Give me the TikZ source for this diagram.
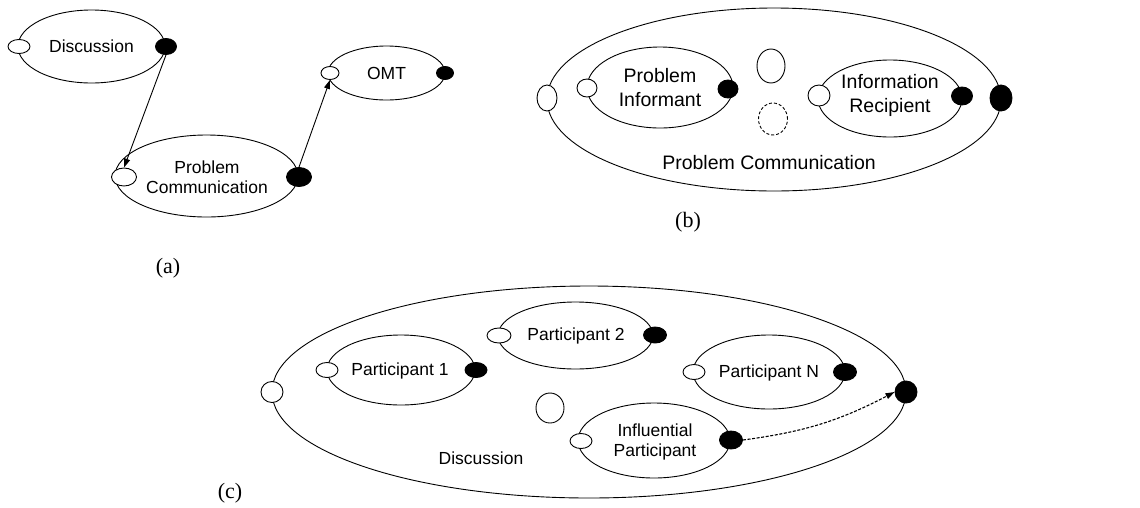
\documentclass[tikz,border=0pt]{standalone}
\usepackage{fontspec}
\setmainfont{Liberation Serif}
\newfontfamily\arialface{Liberation Sans}
\usetikzlibrary{shapes.geometric,arrows.meta}

\tikzset{
  shell/.style={draw, ellipse, line width=0.9pt, inner sep=0pt},
  inport/.style={draw, ellipse, fill=white, line width=0.9pt, inner sep=0pt},
  outport/.style={draw, ellipse, fill=black, line width=0.9pt, inner sep=0pt},
  lbl/.style={font=\arialface\fontsize{17.5}{20.5}\selectfont, align=center, inner sep=0pt},
  lblb/.style={font=\arialface\fontsize{19.5}{24}\selectfont, align=center, inner sep=0pt},
  caption/.style={font=\fontsize{22}{26}\selectfont, inner sep=0pt},
  flow/.style={line width=0.9pt, -{Triangle[length=9pt,width=6pt]}},
  dflow/.style={line width=1.1pt, dash pattern=on 3pt off 1.6pt, -{Triangle[length=9pt,width=6pt]}},
}

\begin{document}
\begin{tikzpicture}[x=1pt, y=-1pt]
\useasboundingbox (0,0) rectangle (1140,507);

% ---------- (a) ----------
\node[shell, minimum width=147, minimum height=73] (disc) at (91.5,46.5) {};
\node[lbl] (disctxt) at (disc.center) {Discussion};
\node[inport, minimum width=22, minimum height=14] (discL) at (19,46.5) {};
\node[outport, minimum width=21, minimum height=16] (discR) at (166,46.5) {};

\node[shell, minimum width=183, minimum height=82] (pc) at (206.5,176) {};
\node[lbl] (pctxt) at (207,177) {Problem\\Communication};
\node[inport, minimum width=25, minimum height=18] (pcL) at (124,177) {};
\node[outport, minimum width=25, minimum height=19] (pcR) at (299,177) {};

\node[shell, minimum width=117, minimum height=54] (omt) at (386.5,73) {};
\node[lbl] (omttxt) at (omt.center) {OMT};
\node[inport, minimum width=18, minimum height=13] (omtL) at (330,73) {};
\node[outport, minimum width=17, minimum height=13] (omtR) at (445,73) {};

\draw[flow] (discR.south) -- (pcL.north);
\draw[flow] (pcR.north) -- (omtL.south);

\node[caption] (capa) at (168,268) {(a)};

% ---------- (b) ----------
\node[shell, minimum width=454, minimum height=183] (pcb) at (774,99.5) {};
\node[inport, minimum width=20, minimum height=26] (pcbL) at (547,98) {};
\node[outport, minimum width=22, minimum height=26] (pcbR) at (1001,98) {};
\node[lblb] (pcbtxt) at (769,163) {Problem Communication};

\node[shell, minimum width=146, minimum height=81] (pinf) at (660,87.5) {};
\node[lblb] (pinftxt) at (660,88) {Problem\\Informant};
\node[inport, minimum width=20, minimum height=18] (pinfL) at (587,88) {};
\node[outport, minimum width=20, minimum height=18] (pinfR) at (728,89) {};

\node[shell, minimum width=144, minimum height=77] (irec) at (890,98.5) {};
\node[lblb] (irectxt) at (890,95) {Information\\Recipient};
\node[inport, minimum width=22, minimum height=21] (irecL) at (819,95.5) {};
\node[outport, minimum width=21, minimum height=18] (irecR) at (962,96) {};

\node[shell, minimum width=28, minimum height=34] (slot) at (771,66) {};
\node[shell, dash pattern=on 3pt off 2pt, minimum width=29, minimum height=32] (slotd) at (773,119) {};

\node[caption] (capb) at (688,222) {(b)};

% ---------- (c) ----------
\node[shell, minimum width=634, minimum height=212] (dc) at (589,392) {};
\node[inport, minimum width=22, minimum height=21] (dcL) at (272,392) {};
\node[outport, minimum width=22, minimum height=22] (dcR) at (906,392) {};
\node[lbl] (dctxt) at (481,458) {Discussion};

\node[shell, minimum width=148, minimum height=70] (p1) at (401,370) {};
\node[lbl] (p1txt) at (400,371) {Participant 1};
\node[inport, minimum width=22, minimum height=15] (p1L) at (327,370) {};
\node[outport, minimum width=22, minimum height=15] (p1R) at (476,370) {};

\node[shell, minimum width=155, minimum height=67] (p2) at (575.5,335.5) {};
\node[lbl] (p2txt) at (576,336) {Participant 2};
\node[inport, minimum width=24, minimum height=15] (p2L) at (499,335.5) {};
\node[outport, minimum width=23, minimum height=16] (p2R) at (655,335) {};

\node[shell, minimum width=152, minimum height=74] (pN) at (769,372) {};
\node[lbl] (pNtxt) at (769,373) {Participant N};
\node[inport, minimum width=22, minimum height=15] (pNL) at (694,372) {};
\node[outport, minimum width=23, minimum height=17] (pNR) at (845,372) {};

\node[shell, minimum width=28, minimum height=30] (slotc) at (550,408) {};

\node[shell, minimum width=152, minimum height=75] (ip) at (654,440.5) {};
\node[lbl] (iptxt) at (655,442) {Influential\\Participant};
\node[inport, minimum width=22, minimum height=15] (ipL) at (581,441) {};
\node[outport, minimum width=23, minimum height=18] (ipR) at (731,440) {};

\draw[dflow] (ipR.east) to[bend right=10] (dcR.west);

\node[caption] (capc) at (230,493) {(c)};
\end{tikzpicture}
\end{document}
